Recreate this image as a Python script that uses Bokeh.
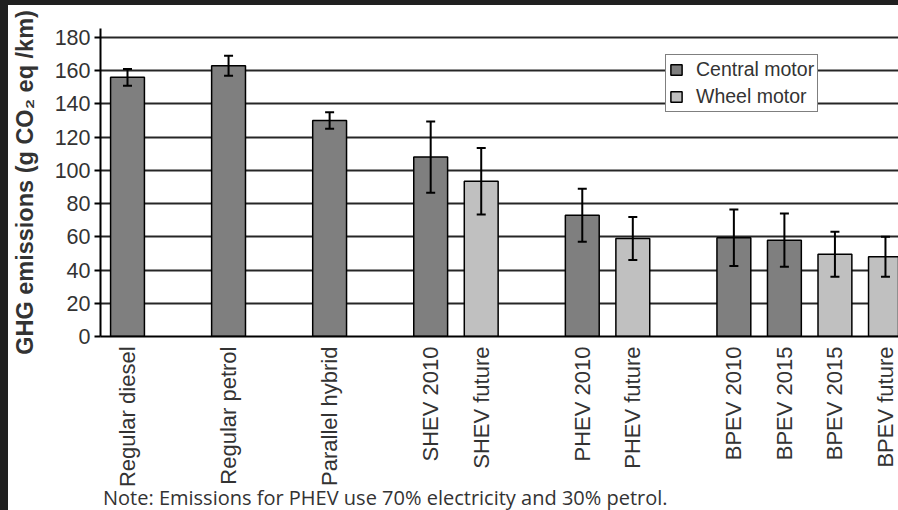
import math
from bokeh.plotting import figure
from bokeh.layouts import column, row
from bokeh.models import (ColumnDataSource, Range1d, FixedTicker, Div,
                          Whisker, TeeHead, Legend, LegendItem)
from bokeh.embed import file_html
from bokeh.resources import INLINE

# ---------------- data ----------------
vehicles = ["Regular diesel", "Regular petrol", "Parallel hybrid",
            "SHEV 2010", "SHEV future", "PHEV 2010", "PHEV future",
            "BPEV 2010", "BPEV 2015", "BPEV 2015", "BPEV future"]
families = ["Diesel", "Petrol", "Hybrid", "SHEV", "SHEV", "PHEV", "PHEV",
            "BPEV", "BPEV", "BPEV", "BPEV"]
motor = ["Central motor", "Central motor", "Central motor",
         "Central motor", "Wheel motor", "Central motor", "Wheel motor",
         "Central motor", "Central motor", "Wheel motor", "Wheel motor"]
emissions = [156, 163, 130, 108, 93.5, 73, 59, 59.5, 58, 49.5, 48]
errors = [5, 6, 5, 21.5, 20, 16, 13, 17, 16, 13.5, 12]
y_ticks = [0, 20, 40, 60, 80, 100, 120, 140, 160, 180]
y_title = "GHG emissions (g CO\u2082 eq /km)"
note = "Note: Emissions for PHEV use 70% electricity and 30% petrol."

# slot positions: consecutive within a family, one empty slot between families
pos = []
cur = 0
for i, f in enumerate(families):
    if i > 0:
        cur += 1 if f == families[i - 1] else 2
    pos.append(cur)

colors = {"Central motor": "#7f7f7f", "Wheel motor": "#c0c0c0"}
DARK = "#202020"
FONT = "Liberation Sans"

# ---------------- main chart ----------------
p = figure(width=890, height=487, output_backend="svg", toolbar_location=None,
           x_range=Range1d(-0.5343, 15.258), y_range=Range1d(0, 185.42),
           min_border_left=92, min_border_right=0, min_border_top=23,
           min_border_bottom=156, background_fill_color="white",
           border_fill_color="white", outline_line_color=None)

renderers = {}
for m in ["Central motor", "Wheel motor"]:
    idx = [i for i in range(len(vehicles)) if motor[i] == m]
    src = ColumnDataSource(dict(x=[pos[i] for i in idx],
                                top=[emissions[i] for i in idx]))
    renderers[m] = p.vbar(x="x", top="top", width=0.67, bottom=0, source=src,
                          fill_color=colors[m], line_color="black", line_width=1.5)

err_src = ColumnDataSource(dict(x=pos,
                                upper=[v + e for v, e in zip(emissions, errors)],
                                lower=[v - e for v, e in zip(emissions, errors)]))
p.add_layout(Whisker(source=err_src, base="x", upper="upper", lower="lower",
                     line_color="black", line_width=2, level="annotation",
                     upper_head=TeeHead(size=9, line_color="black", line_width=2),
                     lower_head=TeeHead(size=9, line_color="black", line_width=2)))

p.xgrid.grid_line_color = None
p.ygrid.grid_line_color = "#262626"
p.ygrid.grid_line_width = 2
p.ygrid.ticker = FixedTicker(ticks=y_ticks)

p.yaxis.ticker = FixedTicker(ticks=y_ticks)
p.yaxis.axis_line_color = "black"
p.yaxis.axis_line_width = 2
p.yaxis.major_tick_line_color = "black"
p.yaxis.major_tick_line_width = 2
p.yaxis.major_tick_in = 0
p.yaxis.major_tick_out = 6
p.yaxis.minor_tick_line_color = None
p.yaxis.major_label_text_font = FONT
p.yaxis.major_label_text_font_size = "21.5px"
p.yaxis.major_label_text_color = "#333333"
p.yaxis.major_label_standoff = 4
p.yaxis.axis_label = y_title
p.yaxis.axis_label_text_font = FONT
p.yaxis.axis_label_text_font_size = "23.5px"
p.yaxis.axis_label_text_font_style = "bold"
p.yaxis.axis_label_text_color = "#333333"
p.yaxis.axis_label_standoff = 14

p.xaxis.ticker = FixedTicker(ticks=pos)
p.xaxis.major_label_overrides = {x: lab for x, lab in zip(pos, vehicles)}
p.xaxis.major_label_orientation = math.pi / 2
p.xaxis.axis_line_color = "black"
p.xaxis.axis_line_width = 2
p.xaxis.major_tick_line_color = None
p.xaxis.minor_tick_line_color = None
p.xaxis.major_tick_in = 0
p.xaxis.major_tick_out = 0
p.xaxis.major_label_standoff = 10
p.xaxis.major_label_text_font = FONT
p.xaxis.major_label_text_font_size = "22px"
p.xaxis.major_label_text_color = "#333333"

legend = Legend(items=[LegendItem(label=m, renderers=[renderers[m]])
                       for m in ["Central motor", "Wheel motor"]],
                location=(565, 224), orientation="vertical",
                label_text_font=FONT, label_text_font_size="19.5px",
                label_text_color="#333333", glyph_width=14, glyph_height=13,
                label_height=20, label_standoff=13, padding=3, spacing=4,
                margin=0, border_line_color="black", border_line_width=1.5,
                background_fill_color="white", background_fill_alpha=1.0)
p.add_layout(legend, "center")

# ---------------- note under the chart ----------------
note_div = Div(text=f'<div style="padding-left:95px; position:relative; top:-3px; '
                    f'white-space:nowrap;">{note}</div>',
               width=890, height=18, margin=0,
               styles={"font-family": "'Open Sans'", "font-size": "20px",
                       "line-height": "18px", "color": "#333333",
                       "background-color": "white", "overflow": "visible"})

# ---------------- dark frame strips ----------------
top_strip = Div(text="", width=898, height=5, margin=0,
                styles={"background-color": DARK})
left_strip = Div(text="", width=8, height=505, margin=0,
                 styles={"background-color": DARK})

layout = column(top_strip,
                row(left_strip, column(p, note_div, spacing=0), spacing=0),
                spacing=0)

open("out.html", "w").write(file_html(layout, INLINE))
